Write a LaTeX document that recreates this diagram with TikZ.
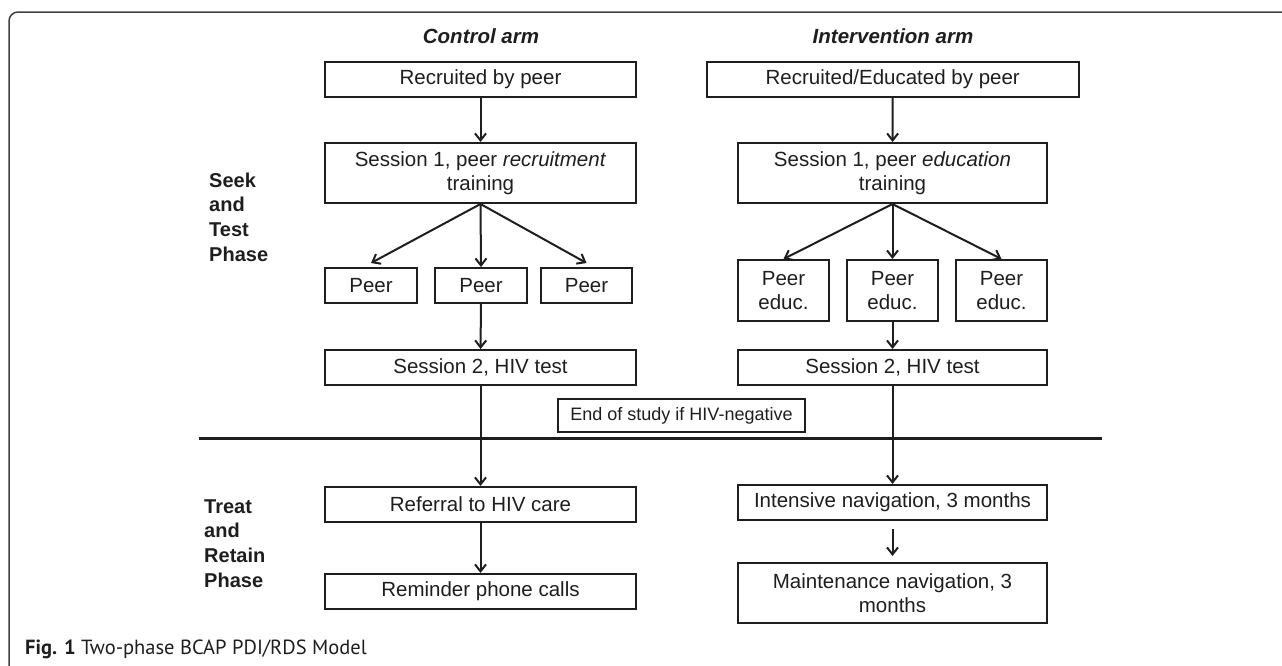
\documentclass[tikz,border=0pt]{standalone}
\usepackage{fontspec}
\setmainfont{Liberation Sans}
\newfontfamily\capfont{PT Sans}
\usetikzlibrary{arrows.meta}
\definecolor{ink}{HTML}{1E1E1E}
\tikzset{
  box/.style={draw=ink, line width=2pt, inner sep=0pt, align=center, text=ink,
    font=\fontsize{20.5}{24}\selectfont},
  wide/.style={box, minimum width=311pt, minimum height=35pt},
  arr/.style={draw=ink, line width=2pt, -{Straight Barb[length=7pt,width=11pt,line width=2pt]}},
  phase/.style={align=left, anchor=west, inner sep=0pt, text=ink,
    font=\fontsize{20}{24.7}\selectfont\bfseries},
  armlabel/.style={inner sep=0pt, text=ink, font=\fontsize{20.5}{24}\selectfont\bfseries\itshape}
}
\begin{document}
\begin{tikzpicture}[x=1pt,y=-1pt]
\useasboundingbox (0,0) rectangle (1282,665);
% frame
\draw[draw=ink!85, line width=1.5pt, rounded corners=9pt] (1290,12) -- (9,12) -- (9,680);
% arm labels
\node[armlabel] (ca) at (481,36) {Control arm};
\node[armlabel] (ia) at (893,36) {Intervention arm};
% phase labels
\node[phase] (seek) at (209,217) {Seek\\and\\Test\\Phase};
\node[phase] (treat) at (204,543.5) {Treat\\and\\Retain\\Phase};
% control column
\node[wide] (rc) at (480.5,79.5) {Recruited by peer};
\node[wide, minimum height=60pt] (s1c) at (480.5,173) {Session 1, peer \textit{recruitment}\\training};
\node[box, minimum width=92pt, minimum height=35pt] (p1c) at (371,285.5) {Peer};
\node[box, minimum width=92pt, minimum height=35pt] (p2c) at (481,285.5) {Peer};
\node[box, minimum width=91pt, minimum height=35pt] (p3c) at (586.5,285.5) {Peer};
\node[wide] (s2c) at (480.5,367.5) {Session 2, HIV test};
\node[wide] (refc) at (480.5,504.5) {Referral to HIV care};
\node[wide] (remc) at (480.5,591.5) {Reminder phone calls};
% intervention column
\node[box, minimum width=372.5pt, minimum height=35pt] (ri) at (892.75,79.5) {Recruited/Educated by peer};
\node[wide, minimum width=309pt, minimum height=60pt] (s1i) at (892.5,173) {Session 1, peer \textit{education}\\training};
\node[box, minimum width=91pt, minimum height=61pt] (p1i) at (783.5,290.5) {Peer\\educ.};
\node[box, minimum width=91pt, minimum height=61pt] (p2i) at (892.5,290.5) {Peer\\educ.};
\node[box, minimum width=91pt, minimum height=61pt] (p3i) at (1001.5,290.5) {Peer\\educ.};
\node[wide, minimum width=309pt] (s2i) at (892.5,367.5) {Session 2, HIV test};
\node[wide, minimum width=309pt] (ini) at (892.5,502.5) {Intensive navigation, 3 months};
\node[wide, minimum width=309pt, minimum height=60pt] (mi) at (892.5,593) {Maintenance navigation, 3\\months};
% end of study
\node[box, line width=2.6pt, minimum width=247pt, minimum height=33pt, font=\fontsize{18}{22}\selectfont] (end) at (681.5,415.5) {End of study if HIV-negative};
% phase divider
\coordinate (dl) at (199,438);
\coordinate (dr) at (1102,438);
\draw[draw=ink, line width=3pt] (dl) -- (dr);
% arrows control
\draw[arr] (rc) -- (s1c);
\draw[arr] (s1c.south) -- ([yshift=4pt]p1c.north);
\draw[arr] (s1c.south) -- (p2c.north);
\draw[arr] (s1c.south) -- ([yshift=4pt]p3c.north);
\draw[arr] (p2c) -- (s2c);
\draw[arr] (s2c) -- (refc);
\draw[arr] (refc) -- (remc);
% arrows intervention
\draw[arr] (ri) -- (s1i);
\draw[arr] (s1i.south) -- (p1i.north);
\draw[arr] (s1i.south) -- (p2i.north);
\draw[arr] (s1i.south) -- (p3i.north);
\draw[arr] (p2i) -- (s2i);
\draw[arr] (s2i) -- (ini);
\draw[arr, shorten <=8pt, shorten >=6pt] (ini) -- (mi);
% caption
\node[anchor=west, inner sep=0pt, text=ink, font=\capfont\fontsize{20.5}{24}\selectfont] (cap) at (25,649) {\textbf{Fig. 1} Two-phase BCAP PDI/RDS Model};
\end{tikzpicture}
\end{document}
